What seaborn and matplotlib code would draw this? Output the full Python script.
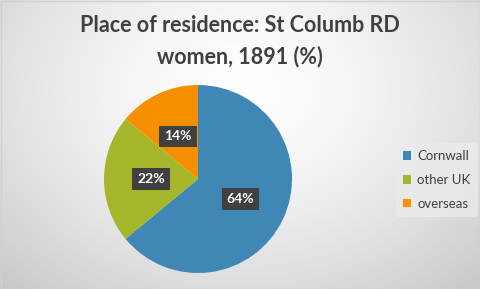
import numpy as np
import matplotlib
matplotlib.use("Agg")
import matplotlib.pyplot as plt
import seaborn as sns

categories = ["Cornwall", "other UK", "overseas"]
values = [64, 22, 14]
colors = ["#3f88b5", "#a6b62b", "#f79000"]
title = "Place of residence: St Columb RD\nwomen, 1891 (%)"

sns.set_style("white")
plt.rcParams["font.family"] = ["Lato", "DejaVu Sans"]

W, H = 480, 289
fig = plt.figure(figsize=(W / 100, H / 100), dpi=100)

# background radial gradient
bg = fig.add_axes([0, 0, 1, 1])
yy, xx = np.mgrid[0:H, 0:W]
d = np.sqrt(((xx - 240) / 300.0) ** 2 + ((yy - 90) / 230.0) ** 2)
g = 1.0 - 0.17 * np.clip(d, 0, 1.2) ** 1.5
img = np.dstack([g, g, g])
bg.imshow(img, extent=[0, W, H, 0], aspect="auto")
bg.set_xlim(0, W)
bg.set_ylim(H, 0)
bg.axis("off")
bg.add_patch(plt.Rectangle((0.5, 0.5), W - 1, H - 1, fill=False, ec="#d0d0d0", lw=1))

fig.text(0.5, 1 - 41 / H, title, ha="center", va="center", fontsize=15.5,
         fontweight="bold", color="#404040", linespacing=1.55)

cx, cy, r = 198, 110, 94
ax = fig.add_axes([(cx - r) / W, (cy - r) / H, 2 * r / W, 2 * r / H])
wedges, texts, autotexts = ax.pie(
    values, colors=colors, startangle=90, counterclock=False,
    autopct=lambda p: f"{p:.0f}%", pctdistance=0.5, radius=1,
    wedgeprops=dict(linewidth=0),
    textprops=dict(color="white", fontsize=10, fontweight="bold"))
for t in autotexts:
    t.set_bbox(dict(boxstyle="square,pad=0.35", fc="#404040", ec="none"))
ax.set_xlim(-1, 1)
ax.set_ylim(-1, 1)
ax.set_aspect("auto")
ax.axis("off")

leg = fig.legend(wedges, categories, loc="center left",
                 bbox_to_anchor=(396 / W, 1 - 180 / H), frameon=True,
                 fontsize=9.5, handlelength=0.6, handleheight=0.6,
                 handletextpad=0.45, labelspacing=0.9, borderpad=0.55,
                 borderaxespad=0)
leg.get_frame().set_facecolor("#ebebeb")
leg.get_frame().set_edgecolor("none")
leg.get_frame().set_alpha(0.8)
for t in leg.get_texts():
    t.set_color("#404040")

fig.savefig("out.png", dpi=100)
